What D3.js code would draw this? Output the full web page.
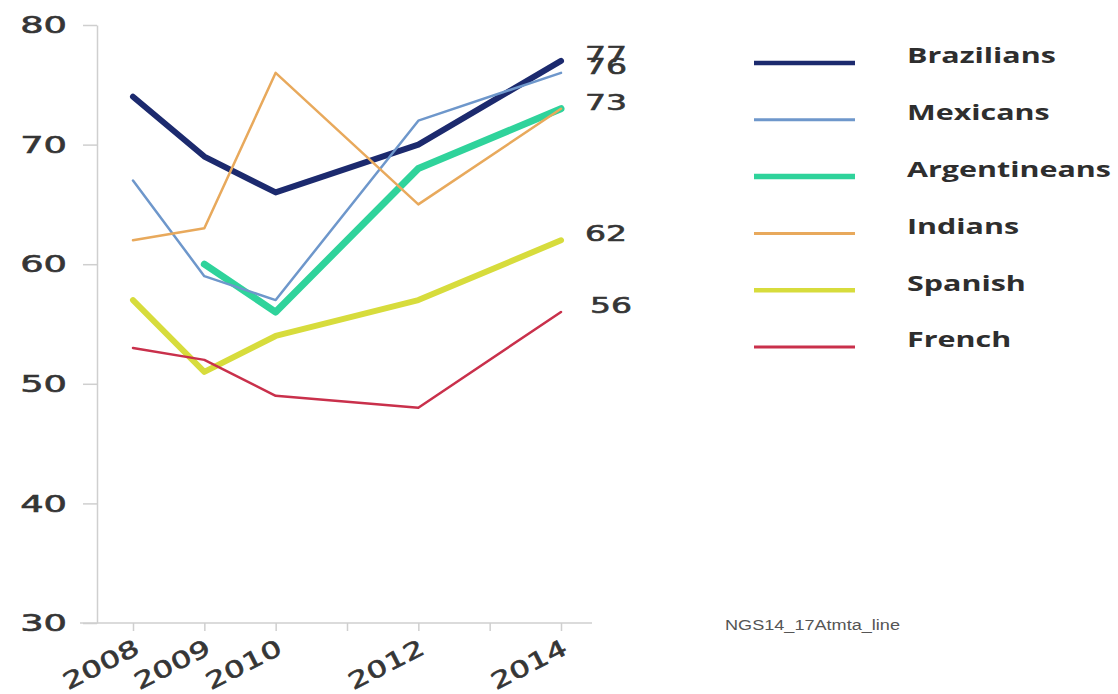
<!DOCTYPE html>
<html>
<head>
<meta charset="utf-8">
<script src="https://cdn.jsdelivr.net/npm/d3@7/dist/d3.min.js"></script>
<style>
  html, body { margin: 0; padding: 0; background: #fff; }
  svg { display: block; }
</style>
</head>
<body>
<svg id="chart" width="1118" height="694"></svg>
<script>
// Survey years, axis ticks and labelled ticks
const surveyYears = [2008, 2009, 2010, 2012, 2014];
const tickYears = [2008, 2009, 2010, 2011, 2012, 2013, 2014];
const yTicks = [30, 40, 50, 60, 70, 80];

// Series values per survey year (null where no reading exists)
const brazilians   = [74, 69, 66, 70, 77];
const mexicans     = [67, 59, 57, 72, 76];
const argentineans = [null, 60, 56, 68, 73];
const indians      = [62, 63, 76, 65, 73];
const spanish      = [57, 51, 54, 57, 62];
const french       = [53, 52, 49, 48, 56];

const seriesNames  = ["Brazilians", "Mexicans", "Argentineans", "Indians", "Spanish", "French"];
const seriesValues = [brazilians, mexicans, argentineans, indians, spanish, french];
const seriesColors = ["#1c2a6e", "#6e97cb", "#2fd39b", "#e8a95c", "#d7dc3c", "#c9304b"];
const seriesWidths = [6, 2.5, 7, 2.5, 6, 2.5];
// Paint order: thick lines underneath, thin lines on top
const drawOrder = [4, 2, 0, 1, 3, 5];

// End-of-line value labels
const endLabels = [
  { series: 0, value: 77 },
  { series: 1, value: 76 },
  { series: 2, value: 73 },
  { series: 4, value: 62 },
  { series: 5, value: 56 }
];

const svg = d3.select("#chart");
const x = d3.scaleLinear().domain([2008, 2014]).range([133, 561]);
const y = d3.scaleLinear().domain([30, 80]).range([623, 25]);
const axisX = 97;
const numFont = "'DejaVu Sans', sans-serif";
const numColor = "#353535";

function numberStyle(sel, size) {
  sel.attr("font-family", numFont)
    .attr("font-size", size)
    .attr("fill", numColor)
    .attr("stroke", numColor)
    .attr("stroke-width", 0.6);
}

// Y axis
const yAxis = svg.append("g")
  .attr("transform", `translate(${axisX},0)`)
  .call(d3.axisLeft(y).tickValues(yTicks).tickSize(14).tickSizeOuter(0).tickFormat(""));
yAxis.selectAll("path, line").attr("stroke", "#cfcfcf").attr("stroke-width", 1.5);

svg.append("g").selectAll("text")
  .data(yTicks)
  .join("text")
  .attr("transform", d => `translate(67,${y(d)}) scale(1.6,1)`)
  .attr("text-anchor", "end")
  .attr("dy", "0.36em")
  .call(numberStyle, 23)
  .text(d => d);

// X axis
svg.append("line")
  .attr("x1", 80).attr("x2", 592)
  .attr("y1", y(30)).attr("y2", y(30))
  .attr("stroke", "#cfcfcf").attr("stroke-width", 1.5);

const xAxis = svg.append("g")
  .attr("transform", `translate(0,${y(30)})`)
  .call(d3.axisBottom(x).tickValues(tickYears).tickSize(8).tickSizeOuter(0).tickFormat(""));
xAxis.select("path").remove();
xAxis.selectAll("line").attr("stroke", "#cfcfcf").attr("stroke-width", 1.5);

svg.append("g").selectAll("text")
  .data(surveyYears)
  .join("text")
  .attr("transform", d => `translate(${x(d) + 8},${y(30) + 30}) rotate(-27) scale(1.4,1)`)
  .attr("text-anchor", "end")
  .call(numberStyle, 23)
  .text(d => d);

// Series lines (missing readings are skipped, neighbours joined)
const line = d3.line()
  .x(d => x(d.year))
  .y(d => y(d.v));

svg.append("g").selectAll("path")
  .data(drawOrder)
  .join("path")
  .attr("d", i => line(surveyYears
    .map((yr, k) => ({ year: yr, v: seriesValues[i][k] }))
    .filter(d => d.v != null)))
  .attr("fill", "none")
  .attr("stroke", i => seriesColors[i])
  .attr("stroke-width", i => seriesWidths[i])
  .attr("stroke-linejoin", "round")
  .attr("stroke-linecap", "round");

// Value labels at the right end
svg.append("g").selectAll("text")
  .data(endLabels)
  .join("text")
  .attr("transform", d => `translate(${x(2014) + (d.value === 56 ? 29 : 24)},${y(d.value) - 7}) scale(1.5,1)`)
  .attr("dy", "0.36em")
  .call(numberStyle, 22)
  .text(d => d.value);

// Legend
const legend = svg.append("g").selectAll("g")
  .data(seriesNames)
  .join("g")
  .attr("transform", (d, i) => `translate(0,${63 + i * 56.8})`);

legend.append("line")
  .attr("x1", 754).attr("x2", 855)
  .attr("stroke", (d, i) => seriesColors[i])
  .attr("stroke-width", (d, i) => Math.max(3, seriesWidths[i] - 1.5));

legend.append("text")
  .attr("transform", "translate(907,0) scale(1.45,1)")
  .attr("dy", "0.02em")
  .attr("font-family", "'Open Sans', sans-serif")
  .attr("font-weight", 700)
  .attr("font-size", 21)
  .attr("fill", "#2e2e2e")
  .text(d => d);

// Source note
svg.append("text")
  .attr("x", 725).attr("y", 630)
  .attr("font-family", "'Liberation Sans Narrow', 'Liberation Sans', sans-serif")
  .attr("font-size", 14)
  .attr("fill", "#555")
  .attr("textLength", 175)
  .attr("lengthAdjust", "spacingAndGlyphs")
  .text("NGS14_17Atmta_line");
</script>
</body>
</html>
